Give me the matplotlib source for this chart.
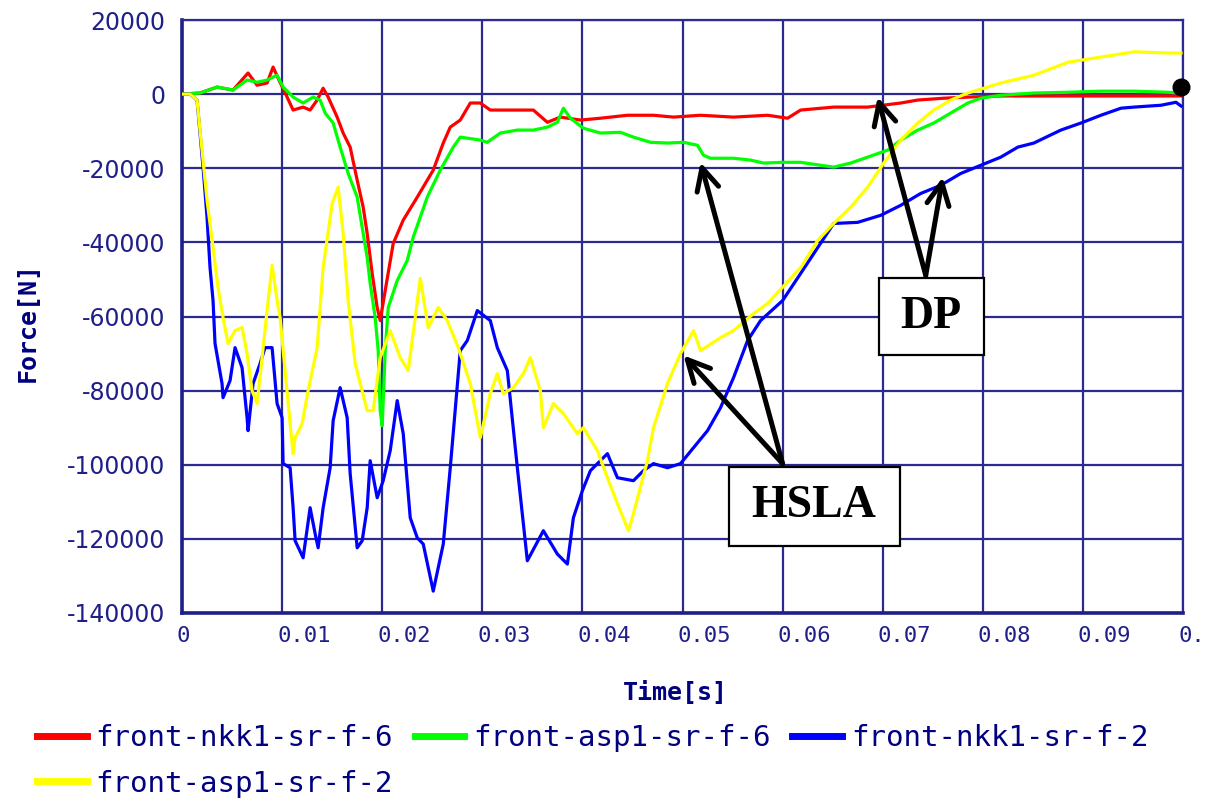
import numpy as np
import matplotlib
matplotlib.use("Agg")
import matplotlib.pyplot as plt
import matplotlib.transforms as mtransforms
from matplotlib.patches import Rectangle

# values: time in ms, force in N
t_red = [0, 1.8, 3.5, 5.1, 6.6, 7.5, 8.5, 9.1, 9.6, 10.5, 11.1, 12.1, 12.8, 13.5, 14.1, 14.6,
         15.5, 16.1, 16.8, 17.5, 18.1, 18.5, 19.0, 19.5, 19.8, 20.3, 21.1, 22.1, 23.5, 25.1,
         26.1, 26.8, 27.8, 28.8, 29.8, 30.8, 32.8, 35.1, 36.5, 37.8, 39.8, 41.8, 44.5, 47.1,
         49.1, 51.8, 55.1, 58.5, 60.5, 61.8, 65.1, 68.5, 71.8, 73.5, 76.1, 78.5, 81.8, 88.5,
         95.1, 99.8]
f_red = [0, 300, 1900, 1100, 5700, 2400, 3000, 7300, 4300, -800, -4300, -3500, -4300, -1600,
         1600, -800, -6200, -10500, -14300, -23200, -30500, -37600, -48400, -57600, -61100,
         -53000, -40300, -34000, -27800, -20500, -13200, -8900, -7000, -2400, -2400, -4300,
         -4300, -4300, -7600, -6200, -7000, -6500, -5700, -5700, -6200, -5700, -6200, -5700,
         -6500, -4300, -3500, -3500, -2400, -1600, -1100, -800, -500, -500, -500, -500]

t_green = [0, 1.8, 3.5, 5.1, 6.5, 7.5, 8.5, 9.5, 10.1, 11.1, 12.1, 13.1, 13.8, 14.3, 15.1,
           15.8, 16.6, 17.5, 18.1, 18.5, 18.8, 19.3, 19.6, 19.8, 20.0, 20.3, 20.6, 21.5, 22.5,
           23.1, 24.5, 25.8, 27.1, 27.8, 29.8, 30.5, 31.8, 33.5, 35.1, 36.5, 37.5, 38.1, 38.8,
           40.1, 41.8, 43.8, 45.1, 46.8, 48.5, 50.1, 51.5, 52.1, 52.8, 55.1, 56.8, 58.1, 60.1,
           61.8, 65.1, 66.8, 68.5, 70.5, 71.8, 73.5, 75.1, 76.8, 78.5, 79.8, 81.8, 85.1, 88.5,
           91.8, 95.1, 98.5, 99.8]
f_green = [0, 300, 1900, 1100, 3800, 3200, 3800, 5100, 1900, -800, -2400, -800, -1600, -5100,
           -7800, -14300, -21400, -27800, -37600, -44100, -51100, -60300, -69200, -85400,
           -89500, -69200, -57600, -50300, -44900, -38600, -27800, -20500, -14300, -11600,
           -12400, -13000, -10500, -9700, -9700, -8900, -7600, -3800, -6500, -9200, -10500,
           -10300, -11600, -13000, -13200, -13000, -13800, -16500, -17300, -17300, -17800,
           -18600, -18400, -18400, -19700, -18600, -17000, -15100, -12400, -9700, -7800, -5100,
           -2400, -1100, -300, 300, 500, 800, 800, 500, 300]

t_blue = [0, 0.8, 1.5, 1.8, 2.1, 2.5, 2.8, 3.1, 3.3, 4.0, 4.1, 4.8, 5.3, 6.0, 6.5, 6.6, 7.1,
          7.8, 8.3, 9.0, 9.5, 10.0, 10.1, 10.8, 11.1, 11.3, 12.1, 12.8, 13.3, 13.6, 14.1,
          14.8, 15.1, 15.8, 16.5, 16.8, 17.5, 18.0, 18.5, 18.8, 19.5, 20.1, 20.8, 21.5, 22.1,
          22.8, 23.5, 24.1, 25.1, 26.1, 26.8, 27.8, 28.5, 29.5, 30.8, 31.5, 32.5, 33.5, 34.5,
          36.1, 37.5, 38.5, 39.1, 40.0, 40.8, 42.5, 43.5, 45.1, 46.1, 47.1, 48.5, 49.8, 51.1,
          52.5, 53.8, 55.1, 56.5, 57.8, 60.0, 61.8, 65.1, 67.5, 69.8, 71.8, 73.8, 75.8, 77.8,
          79.8, 81.8, 83.5, 85.1, 87.8, 89.8, 91.8, 93.8, 95.1, 97.8, 99.3, 99.8]
f_blue = [0, 0, -1600, -10500, -19700, -33200, -46800, -55700, -67300, -78100, -81900, -77300,
          -68400, -73800, -87300, -90800, -78100, -72700, -68400, -68400, -83500, -87300,
          -99700, -100800, -111600, -120500, -125100, -111600, -118600, -122400, -111600,
          -100800, -88100, -79200, -87300, -102400, -122400, -120500, -111600, -98900,
          -108900, -104300, -96200, -82700, -91600, -114300, -119700, -121400, -134100,
          -121400, -100800, -69200, -66500, -58400, -61100, -68400, -74600, -100800, -125900,
          -117800, -124100, -126800, -114300, -107000, -101600, -97000, -103500, -104300,
          -101600, -99700, -100800, -99700, -95400, -90800, -84600, -76500, -66500, -61100,
          -55700, -48400, -34900, -34600, -32700, -30000, -26800, -24600, -21400, -19200,
          -17000, -14300, -13200, -9700, -7800, -5700, -3800, -3500, -3000, -2200, -3200]

t_yellow = [0, 0.8, 1.5, 2.0, 2.5, 3.1, 3.6, 4.1, 4.6, 5.3, 6.0, 6.5, 7.0, 7.5, 8.0, 8.5, 9.0,
            9.5, 9.8, 10.3, 10.8, 11.1, 11.3, 12.0, 12.6, 13.5, 14.1, 15.0, 15.6, 16.1, 16.6,
            17.3, 18.5, 19.1, 19.8, 20.8, 21.8, 22.6, 23.3, 23.8, 24.6, 25.6, 26.5, 27.6, 28.8,
            29.8, 30.8, 31.5, 32.1, 33.1, 34.1, 34.8, 35.8, 36.1, 37.1, 38.1, 39.5, 40.1, 41.5,
            42.5, 43.5, 44.6, 45.1, 46.5, 47.1, 48.5, 49.8, 51.1, 51.8, 53.8, 55.1, 57.1, 58.5,
            61.8, 63.5, 65.1, 66.8, 68.5, 70.1, 71.8, 73.5, 75.1, 76.8, 78.5, 80.1, 81.8, 85.1,
            88.5, 91.8, 95.1, 98.5, 99.8]
f_yellow = [0, 0, -1600, -15100, -28600, -41400, -52200, -60300, -67300, -63800, -63000, -70000,
            -80000, -83500, -71100, -58400, -46200, -55700, -60300, -74600, -88900, -97000,
            -92700, -88900, -80000, -68400, -46800, -29500, -25100, -37600, -55700, -72700,
            -85400, -85400, -71100, -63800, -71100, -74600, -60300, -49700, -63000, -57600,
            -61100, -68400, -78100, -92700, -80800, -75400, -80800, -79200, -75400, -71100,
            -80000, -90000, -83500, -86200, -91600, -90000, -96200, -103500, -110500, -117800,
            -113200, -98900, -90000, -78100, -70000, -63800, -69200, -65700, -63800, -59200,
            -56500, -46800, -39500, -34900, -30500, -25100, -18600, -12400, -7800, -4300, -1600,
            300, 1600, 3000, 5100, 8600, 10000, 11400, 11100, 11100]

labels = ["front-nkk1-sr-f-6", "front-asp1-sr-f-6", "front-nkk1-sr-f-2", "front-asp1-sr-f-2"]
colors = ["#ff0000", "#00ff00", "#0000ff", "#ffff00"]

xticks = np.arange(0, 0.1001, 0.01)
xtick_labels = ["0", "0.01", "0.02", "0.03", "0.04", "0.05", "0.06", "0.07", "0.08", "0.09", "0.1"]
yticks = np.arange(-140000, 20001, 20000)

navy = "#1f1f8a"
grid_col = "#2a2a90"

fig = plt.figure(figsize=(12.07, 8.01), dpi=100)
ax = fig.add_axes([182/1207, 1-613/801, 1001/1207, 593/801])

series = [(t_red, f_red), (t_green, f_green), (t_blue, f_blue), (t_yellow, f_yellow)]
handles = []
for (t, f), c, lab in zip(series, colors, labels):
    h, = ax.plot(np.array(t)*1e-3, f, color=c, lw=2.3, label=lab, zorder=3)
    handles.append(h)

ax.set_xlim(0, 0.1)
ax.set_ylim(-140000, 20000)
ax.set_xticks(xticks)
ax.set_xticklabels(xtick_labels, family="DejaVu Sans Mono", fontsize=16, color=navy, ha="left")
ax.set_yticks(yticks)
ax.set_yticklabels([str(v) for v in yticks], family="DejaVu Sans", fontsize=17, color=navy)
ax.tick_params(length=0)
ax.tick_params(axis="y", pad=12)
ax.tick_params(axis="x", pad=9)
off = mtransforms.ScaledTranslation(-5/100, 0, fig.dpi_scale_trans)
for lbl in ax.get_xticklabels():
    lbl.set_transform(lbl.get_transform() + off)

ax.grid(True, color=grid_col, lw=1.6)
ax.set_axisbelow(True)
for side in ["top", "right"]:
    ax.spines[side].set_color(grid_col)
    ax.spines[side].set_linewidth(1.6)
for side in ["left", "bottom"]:
    ax.spines[side].set_color(navy)
    ax.spines[side].set_linewidth(2.6)

fig.text(675/1207, 1-693/801, "Time[s]", family="DejaVu Sans Mono", weight="bold",
         fontsize=18, color="#000080", ha="center", va="center")
fig.text(28/1207, 1-322/801, "Force[N]", family="DejaVu Sans Mono", weight="bold",
         fontsize=18, color="#000080", ha="center", va="center", rotation=90)

# annotation arrows and boxes
arrow = dict(arrowstyle="->", color="black", lw=3.6, mutation_scale=40, shrinkA=0, shrinkB=0)
ax.annotate("", xy=(0.0695, -800), xytext=(0.0743, -48900), arrowprops=arrow, zorder=5)
ax.annotate("", xy=(0.0760, -22400), xytext=(0.0743, -48900), arrowprops=arrow, zorder=5)
ax.annotate("", xy=(0.0518, -18400), xytext=(0.0600, -99700), arrowprops=arrow, zorder=5)
ax.annotate("", xy=(0.0501, -70500), xytext=(0.0600, -99700), arrowprops=arrow, zorder=5)

ax.add_patch(Rectangle((0.0696, -70500), 0.0105, 21000, facecolor="white",
                       edgecolor="black", lw=1.6, zorder=6))
ax.text(0.07485, -60000, "DP", family="Liberation Serif", weight="bold", fontsize=33,
        ha="center", va="center", zorder=7)
ax.add_patch(Rectangle((0.0546, -121900), 0.0171, 21400, facecolor="white",
                       edgecolor="black", lw=1.6, zorder=6))
ax.text(0.06315, -111200, "HSLA", family="Liberation Serif", weight="bold", fontsize=33,
        ha="center", va="center", zorder=7)

ax.plot([0.0998], [1900], "o", color="black", ms=12, clip_on=False, zorder=8)

# legend fills column by column, so reorder to get red/green/blue on row one
order = [0, 3, 1, 2]
fig.legend([handles[i] for i in order], [labels[i] for i in order],
           loc="upper left", bbox_to_anchor=(37/1207, 1-724/801), ncol=3, frameon=False,
           prop={"family": "DejaVu Sans Mono", "size": 21}, labelcolor="#000080",
           handlelength=1.7, handletextpad=0.3, columnspacing=0.75, labelspacing=0.6,
           borderaxespad=0, borderpad=0)
for h in fig.legends[0].get_lines():
    h.set_linewidth(5)

fig.savefig("out.png", dpi=100, facecolor="white")
